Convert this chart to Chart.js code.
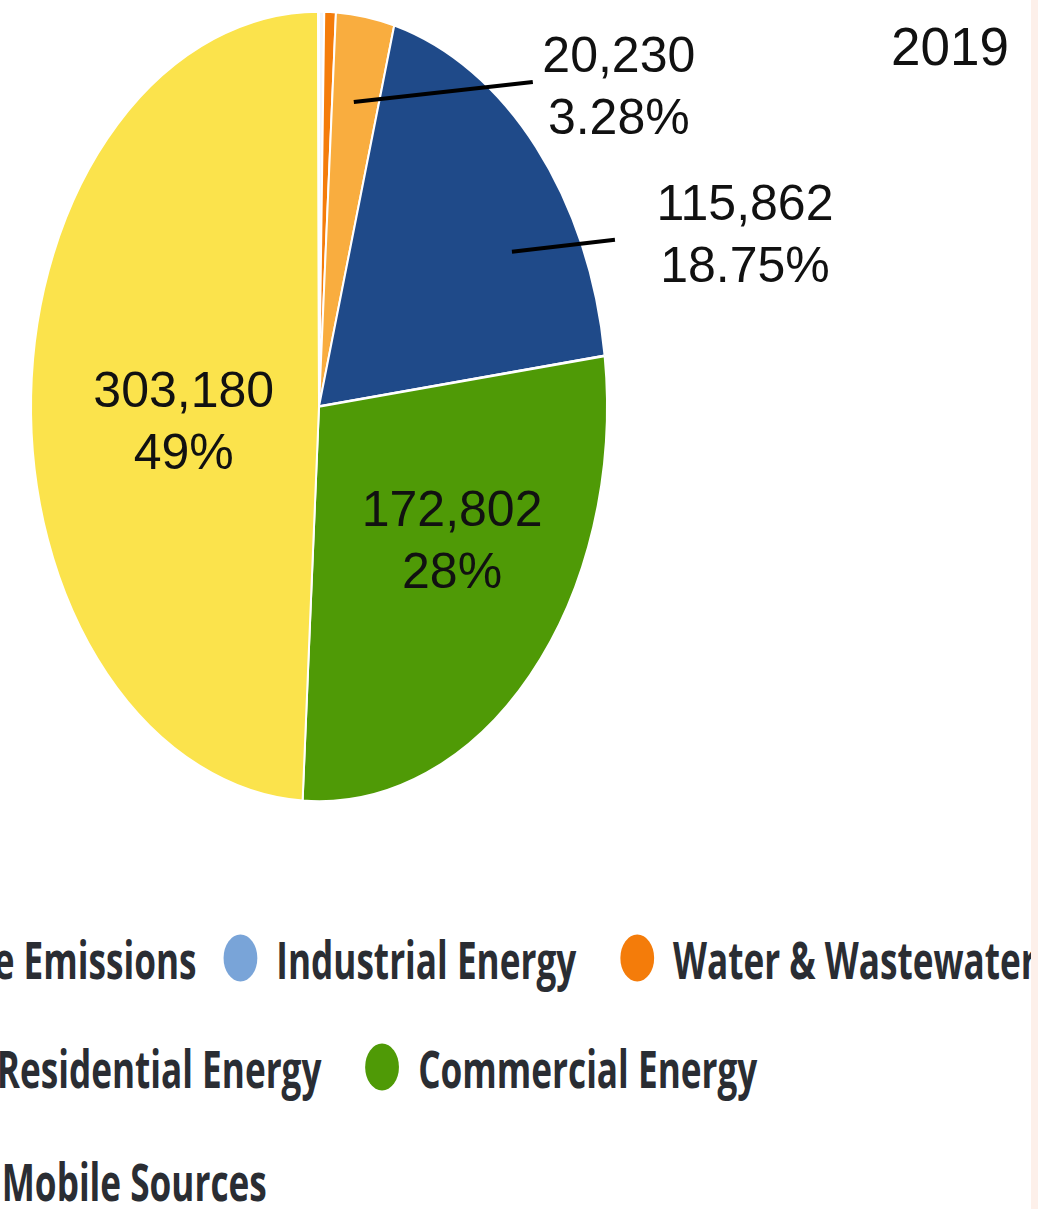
<!DOCTYPE html>
<html>
<head>
<meta charset="utf-8">
<script src="https://cdn.jsdelivr.net/npm/chart.js@4"></script>
<style>
  html, body { margin: 0; padding: 0; background: #fff; }
  body { width: 1038px; height: 1209px; position: relative; overflow: hidden; }
  #chart-wrap { position: absolute; left: 0; top: 0; width: 1038px; height: 860px; }
  #year { position: absolute; left: 891px; top: 16px; font: 53px "Liberation Sans", Arial, sans-serif; color: #111; }
  .legend-row { position: absolute; left: 0; display: flex; align-items: center; white-space: nowrap;
                transform-origin: 0 50%; transform: translateY(-50%) scaleX(0.676); }
  .legend-item { display: flex; align-items: center; margin-right: 65px; }
  .legend-dot { width: 50px; height: 47px; border-radius: 50%; margin-right: 28px; flex: none; }
  .legend-text { font: 700 52px "Open Sans", sans-serif; color: #2a2d33; }
  #edge { position: absolute; right: 0; top: 0; width: 7px; height: 1209px; background: #fdf0ea; }
</style>
</head>
<body>
<div id="chart-wrap"><canvas id="pie-chart" width="1038" height="860"></canvas></div>
<div id="year">2019</div>
<div id="legend"></div>
<div id="edge"></div>

<script>
// slices, clockwise from 12 o'clock
const categories = ['Fugitive Emissions', 'Water & Wastewater', 'Solid Waste', 'Residential Energy',
                    'Commercial Energy', 'Mobile Sources', 'Industrial Energy'];
const emissions = [1800, 4000, 20230, 115862, 172802, 303180, 300];
const percentLabels = ['', '', '3.28%', '18.75%', '28%', '49%', ''];
const sliceColors = ['#f1f5fa', '#f47c0a', '#f9ad3f', '#1f4a89', '#4f9a06', '#fbe34c', '#79a4d8'];

const stretchY = 1.372; // pie is drawn as a tall ellipse

// where the value labels sit: t = fraction along the slice, r = fraction of radius
const labelSpots = {
    2: { t: 0.47, r: 0.78, line: [179, -20], text: [86, 7] },
    3: { t: 0.66, r: 0.776, line: [103, -12], text: [130, -3] },
    4: { t: 0.44, r: 0.578 },
    5: { t: 0.46, r: 0.472 }
};

const ellipsePie = {
    id: 'ellipsePie',
    beforeDatasetsDraw(chart) {
        const arc = chart.getDatasetMeta(0).data[0];
        const ctx = chart.ctx;
        ctx.save();
        ctx.translate(arc.x, arc.y);
        ctx.scale(1, stretchY);
        ctx.translate(-arc.x, -arc.y);
    },
    afterDatasetsDraw(chart) {
        const ctx = chart.ctx;
        ctx.restore();

        const arcs = chart.getDatasetMeta(0).data;
        ctx.save();
        ctx.font = '50px "Liberation Sans", Arial, sans-serif';
        ctx.fillStyle = '#111';
        ctx.textAlign = 'center';
        ctx.textBaseline = 'middle';
        Object.keys(labelSpots).forEach(key => {
            const i = Number(key);
            const spot = labelSpots[i];
            const arc = arcs[i];
            const a = arc.startAngle + spot.t * (arc.endAngle - arc.startAngle);
            let px = arc.x + Math.cos(a) * arc.outerRadius * spot.r;
            let py = arc.y + Math.sin(a) * arc.outerRadius * spot.r * stretchY;

            if (spot.line) {
                const ex = px + spot.line[0];
                const ey = py + spot.line[1];
                ctx.beginPath();
                ctx.moveTo(px, py);
                ctx.lineTo(ex, ey);
                ctx.strokeStyle = '#000';
                ctx.lineWidth = 4;
                ctx.stroke();
                px = ex + spot.text[0];
                py = ey + spot.text[1];
            }
            ctx.fillText(emissions[i].toLocaleString('en-US'), px, py - 31);
            ctx.fillText(percentLabels[i], px, py + 31);
        });
        ctx.restore();
    }
};

new Chart(document.getElementById('pie-chart'), {
    type: 'pie',
    data: {
        labels: categories,
        datasets: [{
            data: emissions,
            backgroundColor: sliceColors,
            borderColor: '#ffffff',
            borderWidth: 2,
            clip: false
        }]
    },
    options: {
        responsive: false,
        animation: false,
        layout: { padding: { left: 30, right: 430, top: 117.5, bottom: 164.5 } },
        plugins: {
            legend: { display: false },
            tooltip: { enabled: false }
        }
    },
    plugins: [ellipsePie]
});

// legend, cropped on the left like the source picture
const legendRows = [
    { items: ['Fugitive Emissions', 'Industrial Energy', 'Water & Wastewater'], y: 958, anchor: 1, x: 224, firstGap: 40 },
    { items: ['Residential Energy', 'Commercial Energy'], y: 1067, anchor: 1, x: 365 },
    { items: ['Mobile Sources'], y: 1180, anchor: 0, x: 2, onText: true }
];

const legendBox = document.getElementById('legend');
legendRows.forEach(row => {
    const rowEl = document.createElement('div');
    rowEl.className = 'legend-row';
    rowEl.style.top = row.y + 'px';
    row.items.forEach((name, k) => {
        const item = document.createElement('span');
        item.className = 'legend-item';
        if (k === 0 && row.firstGap) item.style.marginRight = row.firstGap + 'px';
        const dot = document.createElement('span');
        dot.className = 'legend-dot';
        dot.style.background = sliceColors[categories.indexOf(name)];
        const text = document.createElement('span');
        text.className = 'legend-text';
        text.textContent = name;
        item.appendChild(dot);
        item.appendChild(text);
        rowEl.appendChild(item);
    });
    legendBox.appendChild(rowEl);

    const anchorItem = rowEl.children[row.anchor];
    const target = row.onText ? anchorItem.lastChild : anchorItem.firstChild;
    const shift = row.x - target.getBoundingClientRect().left;
    rowEl.style.left = shift + 'px';
});
</script>
</body>
</html>
